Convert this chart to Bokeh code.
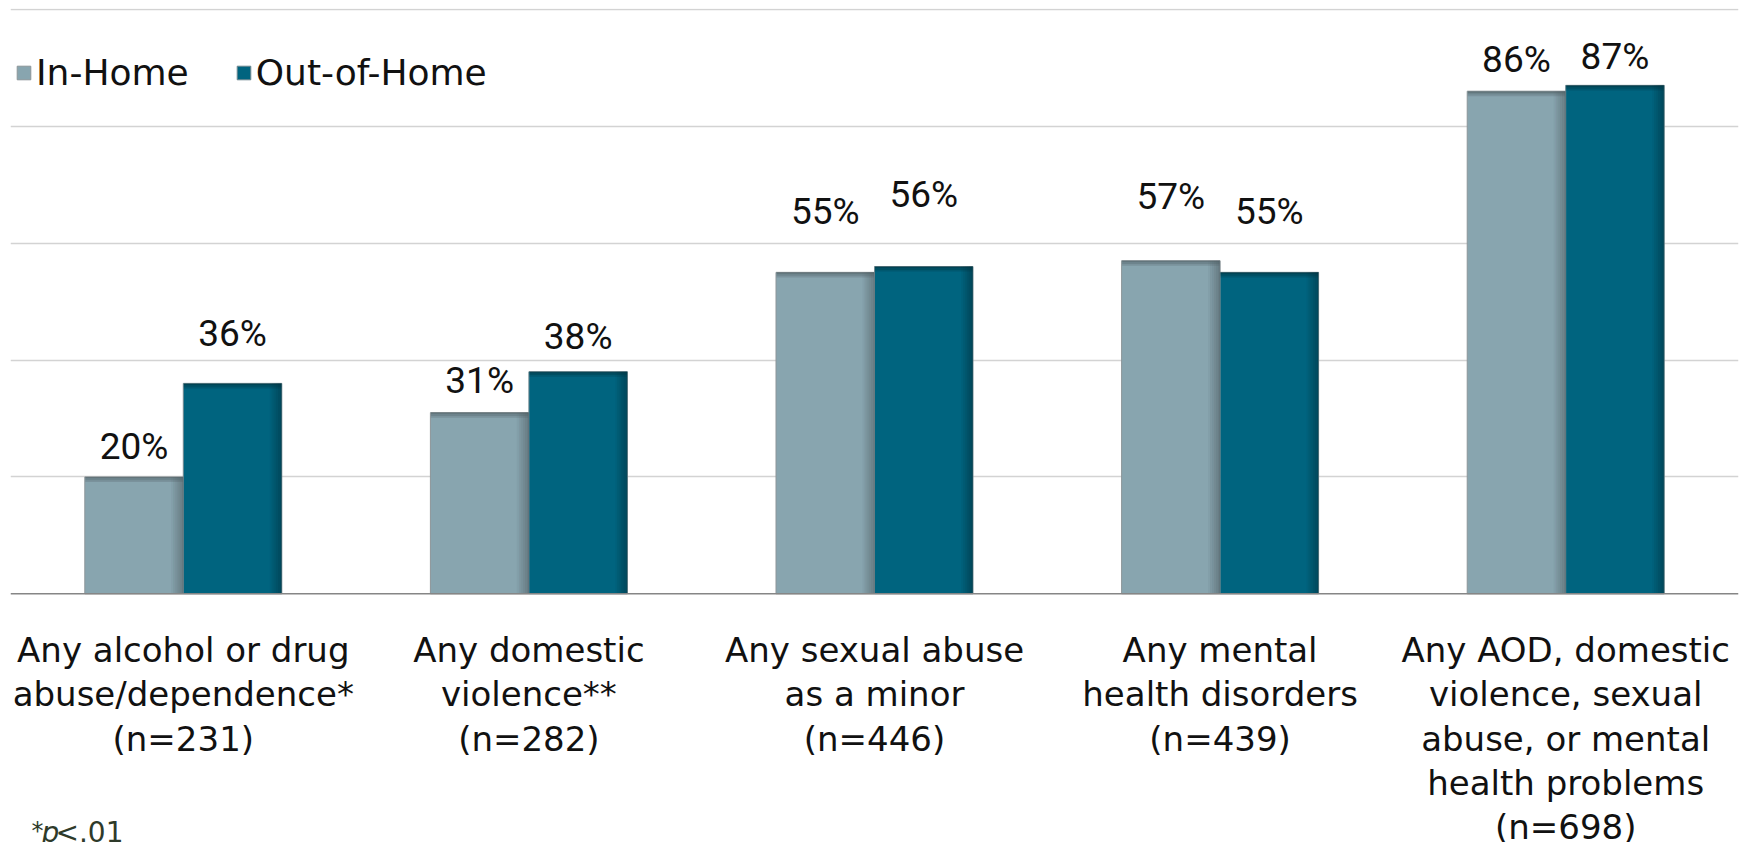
from bokeh.plotting import figure
from bokeh.models import ColumnDataSource, FactorRange, Range1d, Legend, LegendItem, Grid, FixedTicker, Span, Label
from bokeh.transform import dodge
from bokeh.core.properties import value
from bokeh.embed import file_html
from bokeh.resources import INLINE

# ---------------- data ----------------
categories = [
    "Any alcohol or drug\nabuse/dependence*\n(n=231)",
    "Any domestic\nviolence**\n(n=282)",
    "Any sexual abuse\nas a minor\n(n=446)",
    "Any mental\nhealth disorders\n(n=439)",
    "Any AOD, domestic\nviolence, sexual\nabuse, or mental\nhealth problems\n(n=698)",
]
series_names = ["In-Home", "Out-of-Home"]
in_home = [20, 31, 55, 57, 86]
out_of_home = [36, 38, 56, 55, 87]
grid_ticks = [20, 40, 60, 80, 100]

# label lift above bar top (screen px), as placed in the original
in_label_lift = [30, 32, 61, 64, 32]
out_label_lift = [50, 35, 72, 61, 29]

# ---------------- style ----------------
IN_COLOR = "#88A5AF"
IN_DARK = "#4E5D62"
OUT_COLOR = "#00647F"
OUT_DARK = "#00323F"
FONT = "DejaVu Sans"
NUMFONT = "Roboto"

W, H = 1739, 842
BL, BR, BT = 10, 1, 8
frame_w = W - BL - BR
frame_h = H - BT
px_per_unit_y = 585 / 100.0
y_top = 100.0
y_bottom = y_top - frame_h / px_per_unit_y
px_per_cat = frame_w / len(categories)

bar_w = 0.285
off_in = -bar_w / 2
off_out = bar_w / 2

src = ColumnDataSource(data=dict(
    cat=categories,
    inh=in_home,
    outh=out_of_home,
    inl=[f"{v}%" for v in in_home],
    outl=[f"{v}%" for v in out_of_home],
    inoff=[-v for v in in_label_lift],
    outoff=[-v for v in out_label_lift],
    zero=[0] * len(categories),
))

p = figure(
    width=W, height=H, x_range=FactorRange(factors=categories, range_padding=0),
    y_range=Range1d(y_bottom, y_top + 0.15),
    output_backend="svg", toolbar_location=None,
    x_axis_location=None, y_axis_location=None,
    min_border_left=BL, min_border_right=BR, min_border_top=BT, min_border_bottom=0,
)
p.outline_line_color = None
p.background_fill_color = "white"
p.center = [r for r in p.center if not isinstance(r, Grid)]

grid = Grid(dimension=1, ticker=FixedTicker(ticks=grid_ticks),
            grid_line_color="#D3D3D3", grid_line_width=1.5)
p.add_layout(grid)

# bars
r_in = p.vbar(x=dodge("cat", off_in, range=p.x_range), top="inh", width=bar_w, source=src,
              fill_color=IN_COLOR, line_color="#8C9599", line_width=1)
r_out = p.vbar(x=dodge("cat", off_out, range=p.x_range), top="outh", width=bar_w, source=src,
               fill_color=OUT_COLOR, line_color="#6F8890", line_width=1)

# bevel shading: right edge and top edge
strip_px = 2.0
n_strips = 6
sw = strip_px / px_per_cat
for i in range(n_strips):
    a = 0.10 + 0.12 * i
    for off, col, fld in ((off_in, IN_DARK, "inh"), (off_out, OUT_DARK, "outh")):
        xo = off + bar_w / 2 - (n_strips - i - 0.5) * sw
        p.vbar(x=dodge("cat", xo, range=p.x_range), top=fld, width=sw, source=src,
               fill_color=col, fill_alpha=a * 0.8, line_color=None)
top_strips = 3
th = 1.7 / px_per_unit_y
for i in range(top_strips):
    a = 0.65 - 0.2 * i
    for off, col, vals in ((off_in, IN_DARK, in_home), (off_out, OUT_DARK, out_of_home)):
        src_t = ColumnDataSource(data=dict(
            cat=categories,
            t=[v - i * th for v in vals],
            b=[v - (i + 1) * th for v in vals],
        ))
        p.vbar(x=dodge("cat", off, range=p.x_range), top="t", bottom="b", width=bar_w - 0.003,
               source=src_t, fill_color=col, fill_alpha=a, line_color=None)

# baseline
p.add_layout(Span(location=0, dimension="width", line_color="#868686", line_width=1.5))

# value labels
p.text(x=dodge("cat", off_in, range=p.x_range), y="inh", text="inl", source=src,
       y_offset="inoff", text_align="center", text_baseline="alphabetic",
       text_font=value(NUMFONT), text_font_size="37px", text_color="#111111")
p.text(x=dodge("cat", off_out, range=p.x_range), y="outh", text="outl", source=src,
       y_offset="outoff", text_align="center", text_baseline="alphabetic",
       text_font=value(NUMFONT), text_font_size="37px", text_color="#111111")

# category labels under the baseline
p.text(x="cat", y="zero", text="cat", source=src, y_offset=36,
       text_align="center", text_baseline="top", text_line_height=1.11,
       text_font=value(FONT), text_font_size="34px", text_color="#111111")

# legend
legend = Legend(items=[LegendItem(label=series_names[0], renderers=[r_in]),
                       LegendItem(label=series_names[1], renderers=[r_out])],
                orientation="horizontal", location=(5, frame_h - 85),
                padding=0, margin=0, spacing=46, label_standoff=4,
                glyph_width=17, glyph_height=17,
                label_text_font=FONT, label_text_font_size="36px",
                label_text_color="#111111",
                background_fill_alpha=0, border_line_color=None)
p.add_layout(legend, "center")

# footnote
p.add_layout(Label(x=21, y=-2, x_units="screen", y_units="screen", text="*",
                   text_font=FONT, text_font_size="24px", text_color="#2E3A2A"))
p.add_layout(Label(x=31, y=-6, x_units="screen", y_units="screen", text="p",
                   text_font=FONT, text_font_size="28px", text_font_style="italic",
                   text_color="#2E3A2A"))
p.add_layout(Label(x=45, y=-6, x_units="screen", y_units="screen", text="<.01",
                   text_font=FONT, text_font_size="28px", text_color="#2E3A2A"))

open("out.html", "w").write(file_html(p, INLINE))
